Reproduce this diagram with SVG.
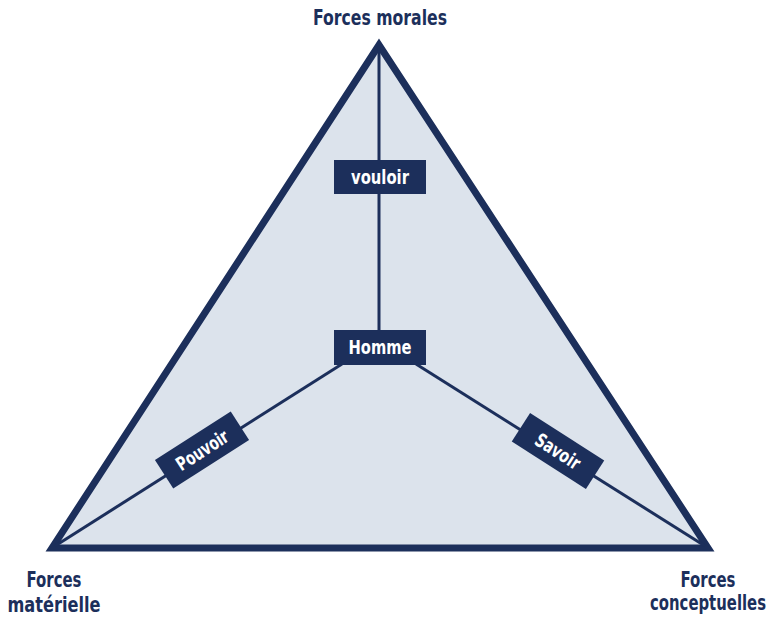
<svg xmlns="http://www.w3.org/2000/svg" width="776" height="618" viewBox="0 0 776 618">
<style>
.lbl{font-family:"DejaVu Sans Condensed","Liberation Sans",sans-serif;font-weight:bold;fill:#1c2f5b;font-size:22px;text-anchor:middle}
.box{fill:#1c2f5b}
.bt{font-family:"DejaVu Sans Condensed","Liberation Sans",sans-serif;font-weight:bold;fill:#ffffff;font-size:19px;text-anchor:middle}
.ln{stroke:#1c2f5b;stroke-width:3;fill:none}
</style>
<rect width="776" height="618" fill="#ffffff"/>
<g id="triangle">
<polygon points="379,45 52,548 708,548" fill="#dce3ec" stroke="#1c2f5b" stroke-width="7" stroke-linejoin="miter"/>
</g>
<g id="connectors">
<line class="ln" x1="379" y1="45" x2="379" y2="340"/>
<line class="ln" x1="342" y1="364" x2="55" y2="546"/>
<line class="ln" x1="416" y1="364" x2="705" y2="546"/>
</g>
<g id="vouloir">
<rect class="box" x="334" y="160" width="92" height="34"/>
<text class="bt" x="380" y="184" textLength="58" lengthAdjust="spacingAndGlyphs">vouloir</text>
</g>
<g id="homme">
<rect class="box" x="334" y="330" width="92" height="35"/>
<text class="bt" x="380" y="354" textLength="63" lengthAdjust="spacingAndGlyphs">Homme</text>
</g>
<g id="pouvoir" transform="translate(202,450) rotate(-32.6)">
<rect class="box" x="-45" y="-17" width="90" height="34"/>
<text class="bt" x="0" y="7" textLength="58" lengthAdjust="spacingAndGlyphs">Pouvoir</text>
</g>
<g id="savoir" transform="translate(558,451) rotate(32.6)">
<rect class="box" x="-44" y="-17" width="88" height="34"/>
<text class="bt" x="0" y="7" textLength="50" lengthAdjust="spacingAndGlyphs">Savoir</text>
</g>
<g id="forces-morales">
<text class="lbl" x="380" y="25" textLength="134" lengthAdjust="spacingAndGlyphs">Forces morales</text>
</g>
<g id="forces-materielle">
<text class="lbl" x="54" y="587" textLength="55" lengthAdjust="spacingAndGlyphs">Forces</text>
<text class="lbl" x="54" y="612" textLength="93" lengthAdjust="spacingAndGlyphs">matérielle</text>
</g>
<g id="forces-conceptuelles">
<text class="lbl" x="708" y="587" textLength="55" lengthAdjust="spacingAndGlyphs">Forces</text>
<text class="lbl" x="708" y="610" textLength="116" lengthAdjust="spacingAndGlyphs">conceptuelles</text>
</g>
</svg>
